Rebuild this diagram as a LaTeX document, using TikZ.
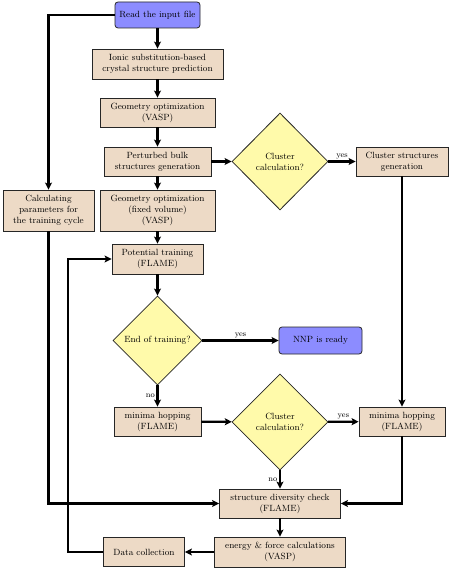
\documentclass[tikz,border=0pt]{standalone}
\usetikzlibrary{shapes.geometric,arrows.meta}
\definecolor{boxfill}{RGB}{237,218,198}
\definecolor{decfill}{RGB}{255,250,170}
\definecolor{termfill}{RGB}{140,140,255}
\begin{document}
\begin{tikzpicture}[x=1pt,y=1pt,
  box/.style={draw=black!85,line width=0.8pt,fill=boxfill,align=center,inner sep=1pt,font=\small},
  term/.style={box,fill=termfill,rounded corners=3pt},
  dec/.style={diamond,draw=black!85,line width=0.8pt,fill=decfill,align=center,inner sep=0pt,font=\small},
  arr/.style={line width=2.3pt,-{Stealth[length=7pt,width=7pt,inset=1.5pt]}},
  lbl/.style={font=\footnotesize,inner sep=1.5pt}]
\useasboundingbox (0,0) rectangle (454,-572);
\node[term,minimum width=85,minimum height=26] (read) at (157.5,-15) {Read the input file};
\node[box,minimum width=131,minimum height=30] (ionic) at (157.5,-64) {Ionic substitution-based\\crystal structure prediction};
\node[box,minimum width=115,minimum height=29] (geo1) at (157.5,-112.5) {Geometry optimization\\(VASP)};
\node[box,minimum width=107,minimum height=29] (pert) at (157.5,-161.5) {Perturbed bulk\\structures generation};
\node[dec,minimum width=96,minimum height=97] (clus1) at (280,-161.5) {Cluster\\calculation?};
\node[box,minimum width=92,minimum height=29] (csg) at (402,-161.5) {Cluster structures\\generation};
\node[box,minimum width=91,minimum height=41] (calc) at (48.5,-210.5) {Calculating\\parameters for\\the training cycle};
\node[box,minimum width=115,minimum height=41] (geo2) at (157.5,-210.5) {Geometry optimization\\(fixed volume)\\(VASP)};
\node[box,minimum width=91,minimum height=30] (pot) at (157.5,-259) {Potential training\\(FLAME)};
\node[dec,minimum width=89,minimum height=89] (endt) at (157.5,-340.5) {End of training?};
\node[term,minimum width=83,minimum height=27] (nnp) at (320.5,-340.5) {NNP is ready};
\node[box,minimum width=87,minimum height=29] (mh1) at (157.5,-421.5) {minima hopping\\(FLAME)};
\node[dec,minimum width=96,minimum height=96] (clus2) at (280,-422) {Cluster\\calculation?};
\node[box,minimum width=86,minimum height=29] (mh2) at (402,-421.5) {minima hopping\\(FLAME)};
\node[box,minimum width=121,minimum height=29] (sdc) at (280,-503.5) {structure diversity check\\(FLAME)};
\node[box,minimum width=131,minimum height=30] (ef) at (280,-552) {energy \& force calculations\\(VASP)};
\node[box,minimum width=81,minimum height=29] (dc) at (144,-552) {Data collection};
\coordinate (lp) at (68,-552);
\draw[arr] (read.west) -| (calc.north);
\draw[arr] (read) -- (ionic);
\draw[arr] (ionic) -- (geo1);
\draw[arr] (geo1) -- (pert);
\draw[arr] (pert) -- (geo2);
\draw[arr] (geo2) -- (pot);
\draw[arr] (pot) -- (endt);
\draw[arr] (pert) -- (clus1);
\draw[arr] (clus1) -- node[lbl,above]{yes} (csg);
\draw[arr] (csg) -- (mh2);
\draw[arr] (calc.south) |- (sdc.west);
\draw[arr] (endt) -- node[lbl,above]{yes} (nnp);
\draw[arr] (endt) -- node[lbl,left]{no} (mh1);
\draw[arr] (mh1) -- (clus2);
\draw[arr] (clus2) -- node[lbl,above]{yes} (mh2);
\draw[arr] (clus2) -- node[lbl,left]{no} (sdc);
\draw[arr] (mh2.south) |- (sdc.east);
\draw[arr] (sdc) -- (ef);
\draw[arr] (ef) -- (dc);
\draw[arr] (dc.west) -- (lp) |- (pot.west);
\end{tikzpicture}
\end{document}
